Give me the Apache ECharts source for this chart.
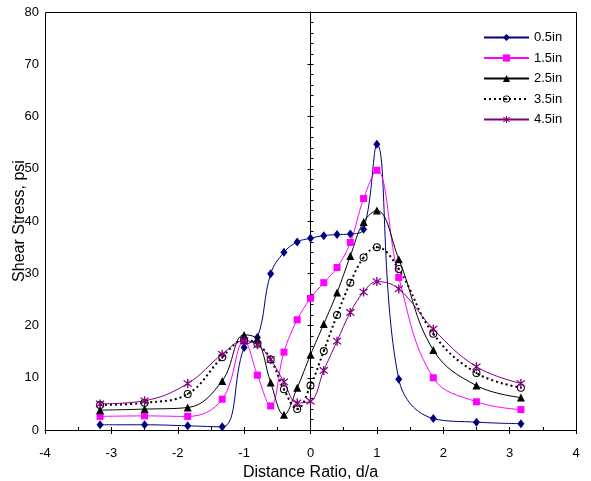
<!DOCTYPE html>
<html>
<head>
<meta charset="utf-8">
<script src="https://cdn.jsdelivr.net/npm/echarts@6/dist/echarts.min.js"></script>
<style>
  html, body { margin: 0; padding: 0; background: #fff; }
  #chart { width: 591px; height: 481px; }
</style>
</head>
<body>
<div id="chart"></div>
<script>
// Gauge positions along the beam, as distance ratio d/a
const distanceRatio = [-3.17, -2.5, -1.85, -1.33, -1.0, -0.8, -0.6, -0.4, -0.2, 0, 0.2, 0.4, 0.6, 0.8, 1.0, 1.33, 1.85, 2.5, 3.17];

// Shear stress (psi) for each depth
const stress05 = [1.0, 1.0, 0.8, 0.6, 15.8, 17.7, 29.9, 34.0, 36.0, 36.7, 37.2, 37.4, 37.5, 38.4, 54.7, 9.7, 2.2, 1.5, 1.2];
const stress15 = [2.6, 2.7, 2.6, 5.9, 17.0, 10.5, 4.6, 14.9, 21.1, 25.2, 28.2, 31.1, 35.9, 44.3, 49.7, 29.2, 10.0, 5.4, 3.9];
const stress25 = [3.8, 4.0, 4.3, 9.4, 18.2, 17.3, 9.1, 2.9, 8.1, 14.4, 20.3, 26.3, 33.3, 39.8, 42.0, 32.7, 15.3, 8.5, 6.2];
const stress35 = [4.8, 5.2, 6.9, 13.9, 17.2, 16.5, 13.5, 7.8, 4.0, 8.5, 15.1, 22.0, 28.2, 33.0, 35.0, 30.8, 18.4, 10.9, 8.1];
const stress45 = [5.0, 5.6, 8.9, 14.5, 17.1, 16.3, 13.5, 9.2, 5.2, 5.5, 11.4, 17.0, 22.5, 26.4, 28.4, 27.0, 19.3, 12.1, 8.9];

const seriesNames = ['0.5in', '1.5in', '2.5in', '3.5in', '4.5in'];

// Axis ranges and tick steps
const xRange = [-4, 4];
const xStep = 1;
const xMinorStep = 0.5;
const yRange = [0, 80];
const yStep = 10;
const yMinorStep = 2;

const xTitle = 'Distance Ratio, d/a';
const yTitle = 'Shear Stress, psi';

const FONT = 'Liberation Sans, Arial, sans-serif';

// Ring with a centre dot
const ringDot = 'path://M0,-5A5,5,0,1,1,0,5A5,5,0,1,1,0,-5ZM0,-3.7A3.7,3.7,0,1,0,0,3.7A3.7,3.7,0,1,0,0,-3.7ZM0,-1.3A1.3,1.3,0,1,1,0,1.3A1.3,1.3,0,1,1,0,-1.3Z';
// Six-armed asterisk built from three thin bars
const asterisk = 'path://M-0.6,-5L0.6,-5L0.6,5L-0.6,5Z' +
  'M-3.96,-3.12L-3.12,-3.96L3.96,3.12L3.12,3.96Z' +
  'M-3.12,3.96L-3.96,3.12L3.12,-3.96L3.96,-3.12Z';

function pairs(values) {
  return distanceRatio.map((x, i) => [x, values[i]]);
}

function lineSeries(name, values, color, symbol, size, lineType, lineWidth) {
  return {
    name: name,
    type: 'line',
    data: pairs(values),
    smooth: 0.4,
    clip: false,
    symbol: symbol,
    symbolSize: size,
    showSymbol: true,
    itemStyle: { color: color },
    lineStyle: { color: color, width: lineWidth, type: lineType },
    emphasis: { disabled: true },
    xAxisIndex: 0,
    yAxisIndex: 0
  };
}

const chart = echarts.init(document.getElementById('chart'), null, { renderer: 'canvas' });

chart.setOption({
  animation: false,
  backgroundColor: '#fff',
  textStyle: { fontFamily: FONT, color: '#000' },
  grid: {
    left: 45, right: 15, top: 12, bottom: 51,
    containLabel: false,
    outerBoundsMode: 'none'
  },
  legend: {
    orient: 'vertical',
    left: 478,
    top: 26,
    itemWidth: 45,
    itemHeight: 9,
    itemGap: 7.5,
    selectedMode: false,
    textStyle: { fontFamily: FONT, fontSize: 13, color: '#000' },
    data: seriesNames
  },
  xAxis: [
    {
      type: 'value',
      position: 'bottom',
      min: xRange[0], max: xRange[1], interval: xStep,
      axisLine: { onZero: true, onZeroAxisIndex: 0, lineStyle: { color: '#000', width: 1 } },
      axisTick: { inside: false, length: 4, lineStyle: { color: '#000', width: 1 } },
      axisLabel: { color: '#000', fontSize: 13, margin: 17, fontFamily: FONT },
      splitLine: { show: false },
      name: xTitle,
      nameLocation: 'middle',
      nameGap: 29,
      nameTextStyle: { fontSize: 16, color: '#000', fontFamily: FONT }
    },
    {
      type: 'value',
      position: 'bottom',
      min: xRange[0], max: xRange[1], interval: xMinorStep,
      axisLine: { show: false, onZero: true, onZeroAxisIndex: 0 },
      axisTick: { inside: true, length: 3, lineStyle: { color: '#000', width: 1 } },
      axisLabel: { show: false },
      splitLine: { show: false }
    }
  ],
  yAxis: [
    {
      type: 'value',
      position: 'left',
      min: yRange[0], max: yRange[1], interval: yStep,
      axisLine: { show: true, onZero: true, onZeroAxisIndex: 0, lineStyle: { color: '#000', width: 1 } },
      axisTick: { show: true, inside: false, length: 3, lineStyle: { color: '#000', width: 1 } },
      axisLabel: { color: '#000', fontSize: 13, margin: 6, fontFamily: FONT },
      splitLine: { show: false }
    },
    {
      type: 'value',
      position: 'left',
      min: yRange[0], max: yRange[1], interval: yMinorStep,
      axisLine: { show: false, onZero: true, onZeroAxisIndex: 0 },
      axisTick: { show: true, inside: true, length: 3, lineStyle: { color: '#000', width: 1 } },
      axisLabel: { show: false },
      splitLine: { show: false }
    }
  ],
  series: [
    lineSeries(seriesNames[0], stress05, '#000080', 'diamond', [7, 9], 'solid', 1),
    lineSeries(seriesNames[1], stress15, '#ff00ff', 'rect', 7, 'solid', 1),
    lineSeries(seriesNames[2], stress25, '#000000', 'triangle', 8, 'solid', 1),
    lineSeries(seriesNames[3], stress35, '#000000', ringDot, 8, [2, 3], 2),
    lineSeries(seriesNames[4], stress45, '#800080', asterisk, 9, 'solid', 1)
  ]
});

// Plot frame and vertical axis title, placed from the axis scales
const topLeft = chart.convertToPixel({ xAxisIndex: 0, yAxisIndex: 0 }, [xRange[0], yRange[1]]);
const bottomRight = chart.convertToPixel({ xAxisIndex: 0, yAxisIndex: 0 }, [xRange[1], yRange[0]]);
const x0 = Math.round(topLeft[0]) + 0.5;
const y0 = Math.round(topLeft[1]) + 0.5;
const x1 = Math.round(bottomRight[0]) + 0.5;
const y1 = Math.round(bottomRight[1]) + 0.5;
const midY = (topLeft[1] + bottomRight[1]) / 2;

chart.setOption({
  graphic: [
    {
      type: 'polyline',
      shape: { points: [[x0, y1], [x0, y0], [x1, y0], [x1, y1]] },
      style: { stroke: '#000', lineWidth: 1, fill: null },
      silent: true,
      z: 100
    },
    {
      type: 'text',
      x: 20,
      y: midY,
      rotation: Math.PI / 2,
      style: {
        text: yTitle,
        fill: '#000',
        font: '16px ' + FONT,
        align: 'center',
        verticalAlign: 'middle'
      },
      silent: true
    }
  ]
});
</script>
</body>
</html>
